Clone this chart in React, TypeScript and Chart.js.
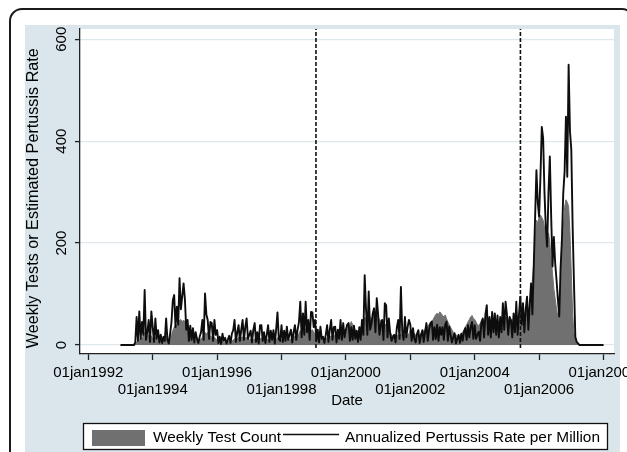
import React, { useEffect, useRef } from "react";
import { Chart, registerables } from "chart.js";

Chart.register(...registerables);

// ---- data (semi-monthly readings, 24 per year, starting 01jan1993) ----
const SERIES_START_YEAR = 1993;
const POINTS_PER_YEAR = 24;

const weeklyTestCount = [
  /*1993*/ 0, 0, 0, 0, 0, 0, 0, 0, 0, 0, 0, 0, 5, 10, 8, 15, 12, 20, 25, 18, 15, 20, 12, 18,
  /*1994*/ 12, 10, 15, 8, 12, 10, 8, 10, 12, 15, 18, 12, 10, 12, 20, 28, 35, 40, 38, 45, 48, 50, 45, 49,
  /*1995*/ 45, 40, 35, 28, 22, 18, 15, 12, 10, 10, 8, 10, 12, 15, 20, 25, 22, 25, 20, 18, 15, 12, 15, 12,
  /*1996*/ 10, 8, 8, 6, 8, 5, 6, 5, 6, 8, 6, 8, 10, 12, 10, 12, 15, 12, 14, 16, 12, 14, 15, 12,
  /*1997*/ 10, 12, 8, 10, 12, 8, 10, 8, 12, 14, 10, 12, 8, 10, 12, 10, 12, 10, 12, 8, 10, 14, 12, 10,
  /*1998*/ 10, 12, 10, 12, 14, 12, 10, 12, 14, 15, 18, 15, 18, 22, 28, 25, 30, 28, 32, 28, 30, 25, 28, 30,
  /*1999*/ 25, 22, 18, 15, 12, 14, 10, 10, 12, 12, 14, 15, 16, 18, 15, 18, 20, 18, 20, 22, 25, 22, 28, 30,
  /*2000*/ 30, 32, 40, 38, 46, 40, 35, 30, 25, 28, 30, 35, 40, 45, 55, 50, 55, 60, 55, 50, 55, 58, 52, 60,
  /*2001*/ 55, 50, 48, 45, 40, 42, 38, 32, 30, 25, 20, 18, 16, 15, 18, 20, 18, 22, 20, 18, 20, 18, 20, 22,
  /*2002*/ 30, 28, 25, 22, 20, 18, 20, 18, 22, 25, 28, 30, 35, 38, 40, 42, 45, 50, 55, 60, 62, 60, 65, 62,
  /*2003*/ 58, 55, 59, 52, 45, 40, 35, 30, 25, 22, 20, 18, 16, 18, 22, 25, 30, 35, 40, 45, 50, 55, 58, 52,
  /*2004*/ 50, 45, 40, 38, 42, 45, 50, 48, 52, 55, 50, 52, 48, 50, 45, 50, 45, 48, 42, 45, 48, 50, 52, 55,
  /*2005*/ 55, 50, 45, 50, 45, 52, 48, 55, 50, 58, 55, 60, 62, 58, 65, 70, 68, 75, 90, 128, 160, 200, 245, 240,
  /*2006*/ 250, 255, 250, 245, 230, 215, 206, 220, 200, 170, 140, 110, 90, 70, 56, 70, 120, 170, 230, 270, 285, 280, 272, 220,
  /*2007*/ 141, 60, 24, 10, 5, 2, 0, 0, 0, 0, 0, 0, 0, 0, 0, 0, 0, 0, 0, 0, 0, 0, 0, 0,
  /*2008*/ 0,
];

const pertussisRate = [
  /*1993*/ 0, 0, 0, 0, 0, 0, 0, 0, 0, 0, 0, 5, 55, 8, 66, 12, 45, 20, 108, 10, 25, 49, 6, 66,
  /*1994*/ 35, 6, 52, 12, 29, 5, 20, 4, 16, 8, 52, 10, 3, 23, 45, 88, 98, 35, 75, 40, 131, 70, 95, 121,
  /*1995*/ 90, 30, 49, 8, 38, 10, 33, 5, 25, 12, 4, 16, 25, 49, 10, 101, 60, 49, 12, 45, 43, 8, 49, 20,
  /*1996*/ 29, 4, 16, 2, 22, 8, 14, 3, 10, 18, 4, 22, 29, 49, 6, 25, 39, 8, 30, 49, 10, 35, 52, 12,
  /*1997*/ 20, 28, 5, 30, 43, 6, 25, 3, 39, 39, 8, 25, 4, 20, 39, 6, 28, 10, 29, 3, 30, 64, 12, 8,
  /*1998*/ 39, 6, 28, 8, 36, 10, 20, 30, 5, 25, 39, 10, 30, 45, 85, 15, 62, 20, 85, 25, 49, 10, 65, 64,
  /*1999*/ 35, 49, 8, 30, 5, 36, 12, 16, 4, 20, 39, 6, 30, 49, 10, 35, 36, 5, 30, 12, 49, 10, 43, 15,
  /*2000*/ 30, 40, 43, 8, 35, 10, 38, 12, 28, 6, 35, 10, 49, 20, 137, 69, 20, 105, 30, 40, 62, 72, 25, 92,
  /*2001*/ 60, 20, 40, 49, 10, 82, 78, 15, 52, 23, 8, 15, 20, 5, 35, 49, 12, 114, 25, 10, 55, 15, 35, 49,
  /*2002*/ 40, 8, 33, 12, 5, 22, 29, 4, 20, 29, 6, 25, 43, 8, 30, 43, 46, 10, 35, 12, 40, 8, 35, 20,
  /*2003*/ 35, 10, 40, 46, 8, 36, 20, 5, 15, 23, 3, 12, 20, 4, 22, 8, 25, 33, 10, 39, 15, 35, 45, 12,
  /*2004*/ 39, 12, 20, 26, 8, 45, 52, 15, 60, 78, 20, 55, 15, 65, 25, 62, 20, 58, 15, 55, 25, 82, 30, 85,
  /*2005*/ 60, 20, 55, 49, 15, 62, 25, 85, 20, 60, 95, 40, 82, 25, 70, 95, 30, 80, 121, 60, 154, 249, 343, 280,
  /*2006*/ 252, 330, 428, 406, 300, 230, 193, 300, 370, 252, 154, 212, 160, 127, 90, 56, 150, 206, 298, 340, 448, 330, 550, 420,
  /*2007*/ 383, 232, 121, 16, 6, 3, 0, 0, 0, 0, 0, 0, 0, 0, 0, 0, 0, 0, 0, 0, 0, 0, 0, 0,
  /*2008*/ 0,
];

const TICK_YEARS = [1992, 1994, 1996, 1998, 2000, 2002, 2004, 2006, 2008];
const Y_TICKS = [0, 200, 400, 600];
const REFERENCE_LINE_YEARS = [1999.07, 2005.42];
const SERIES_LABELS = ["Weekly Test Count", "Annualized Pertussis Rate per Million"];
const Y_TITLE = "Weekly Tests or Estimated Pertussis Rate";
const X_TITLE = "Date";
const X_MIN = 1991.742;
const X_MAX = 2008.326;
const Y_MIN = -17.7;
const Y_MAX = 620.2;

// ---- styles ----
const W = 627;
const H = 452;
const FONT = "'Liberation Sans', Arial, Helvetica, sans-serif";
const REGION_BG = "rgb(218,230,235)";
const AREA_GREY = "#707070";
const LINE_BLACK = "#0d0d0d";
const AXIS_COLOR = "#222";

Chart.defaults.font.family = FONT;
Chart.defaults.color = "#000";

const toPoints = (values: number[]) =>
  values.map((v, i) => ({ x: SERIES_START_YEAR + i / POINTS_PER_YEAR, y: v }));

const backgroundPlugin = {
  id: "stataBackground",
  beforeDraw(chart: any) {
    const { ctx, chartArea } = chart;
    ctx.save();
    ctx.fillStyle = "#fff";
    ctx.fillRect(0, 0, W, H);
    ctx.fillStyle = REGION_BG;
    ctx.fillRect(25, 25, 595, H - 25);
    ctx.fillStyle = "#fff";
    ctx.fillRect(chartArea.left, chartArea.top, chartArea.right - chartArea.left, chartArea.bottom - chartArea.top);
    ctx.strokeStyle = "#1a1a1a";
    ctx.lineWidth = 2;
    ctx.beginPath();
    (ctx as any).roundRect(10, 9, 624, 480, 12);
    ctx.stroke();
    ctx.restore();
  },
};

const legendPlugin = {
  id: "stataLegend",
  afterDraw(chart: any) {
    const { ctx } = chart;
    const area = chart.data.datasets.find((d: any) => d.label === SERIES_LABELS[0]);
    const line = chart.data.datasets.find((d: any) => d.label === SERIES_LABELS[1]);
    ctx.save();
    ctx.fillStyle = "#fff";
    ctx.fillRect(83, 423, 524, 26);
    ctx.strokeStyle = "#111";
    ctx.lineWidth = 1.3;
    ctx.strokeRect(83.5, 423.5, 524, 26);
    ctx.fillStyle = area.backgroundColor;
    ctx.fillRect(92, 430, 53, 16);
    ctx.font = `15.4px ${FONT}`;
    ctx.fillStyle = "#000";
    ctx.textBaseline = "middle";
    ctx.textAlign = "left";
    ctx.fillText(area.label, 153, 438);
    const w1 = ctx.measureText(area.label).width;
    const lx0 = 153 + w1 + 2;
    ctx.strokeStyle = line.borderColor;
    ctx.lineWidth = 1.6;
    ctx.beginPath();
    ctx.moveTo(lx0, 434.5);
    ctx.lineTo(lx0 + 56, 434.5);
    ctx.stroke();
    ctx.fillText(line.label, lx0 + 62, 438);
    ctx.restore();
  },
};

export default function App() {
  const ref = useRef<HTMLCanvasElement>(null);

  useEffect(() => {
    if (!ref.current) return;
    const refDatasets = REFERENCE_LINE_YEARS.map((yr) => ({
      label: `ref${yr}`,
      data: [
        { x: yr, y: -6 },
        { x: yr, y: Y_MAX },
      ],
      borderColor: "#111",
      borderWidth: 1.6,
      borderDash: [4, 2],
      pointRadius: 0,
      fill: false,
      order: 0,
    }));

    const chart = new Chart(ref.current, {
      type: "line",
      data: {
        datasets: [
          ...refDatasets,
          {
            label: SERIES_LABELS[1],
            data: toPoints(pertussisRate),
            borderColor: LINE_BLACK,
            borderWidth: 1.9,
            borderJoinStyle: "round",
            pointRadius: 0,
            fill: false,
            tension: 0,
            order: 1,
          },
          {
            label: SERIES_LABELS[0],
            data: toPoints(weeklyTestCount),
            borderColor: AREA_GREY,
            backgroundColor: AREA_GREY,
            borderWidth: 1,
            borderJoinStyle: "round",
            pointRadius: 0,
            fill: "origin",
            tension: 0,
            order: 2,
          },
        ] as any,
      },
      options: {
        responsive: false,
        animation: false,
        layout: { padding: { left: 0, top: 29, right: 13, bottom: 42 } },
        plugins: {
          legend: { display: false },
          tooltip: { enabled: false },
        },
        scales: {
          x: {
            type: "linear",
            min: X_MIN,
            max: X_MAX,
            afterBuildTicks: (s: any) => {
              s.ticks = TICK_YEARS.map((v) => ({ value: v }));
            },
            afterFit: (s: any) => {
              s.height = 56;
              s.paddingLeft = 0;
              s.paddingRight = 0;
            },
            ticks: {
              autoSkip: false,
              minRotation: 0,
              maxRotation: 0,
              padding: 4,
              color: "#000",
              font: { size: 15, lineHeight: 1.15 },
              callback: (v: any, i: number) =>
                i % 2 === 0 ? `01jan${v}` : ["", `01jan${v}`],
            },
            grid: {
              drawOnChartArea: false,
              drawTicks: true,
              tickLength: 6,
              tickColor: AXIS_COLOR,
              tickWidth: 1.3,
            },
            border: { display: true, color: AXIS_COLOR, width: 1.3 },
            title: {
              display: true,
              text: X_TITLE,
              color: "#000",
              font: { size: 15, lineHeight: 1.2 },
              padding: 0,
            },
          },
          y: {
            min: Y_MIN,
            max: Y_MAX,
            afterBuildTicks: (s: any) => {
              s.ticks = Y_TICKS.map((v) => ({ value: v }));
            },
            afterFit: (s: any) => {
              s.width = 80;
              s.paddingTop = 0;
              s.paddingBottom = 0;
            },
            ticks: {
              minRotation: 90,
              maxRotation: 90,
              crossAlign: "center",
              padding: 1,
              color: "#000",
              font: { size: 15 },
            },
            grid: {
              color: "rgb(222,232,236)",
              lineWidth: 1.2,
              tickLength: 5,
              tickColor: AXIS_COLOR,
              tickWidth: 1.3,
            },
            border: { display: true, color: AXIS_COLOR, width: 1.3 },
            title: {
              display: true,
              text: Y_TITLE + "   ",
              color: "#000",
              font: { size: 16.2, lineHeight: 1.2 },
              padding: { top: 24, bottom: 0 },
            },
          },
        },
      } as any,
      plugins: [backgroundPlugin, legendPlugin],
    });
    return () => chart.destroy();
  }, []);

  return (
    <div style={{ position: "fixed", left: 0, top: 0, width: W, height: H }}>
      <canvas ref={ref} width={W} height={H} style={{ display: "block", width: W, height: H }} />
    </div>
  );
}
